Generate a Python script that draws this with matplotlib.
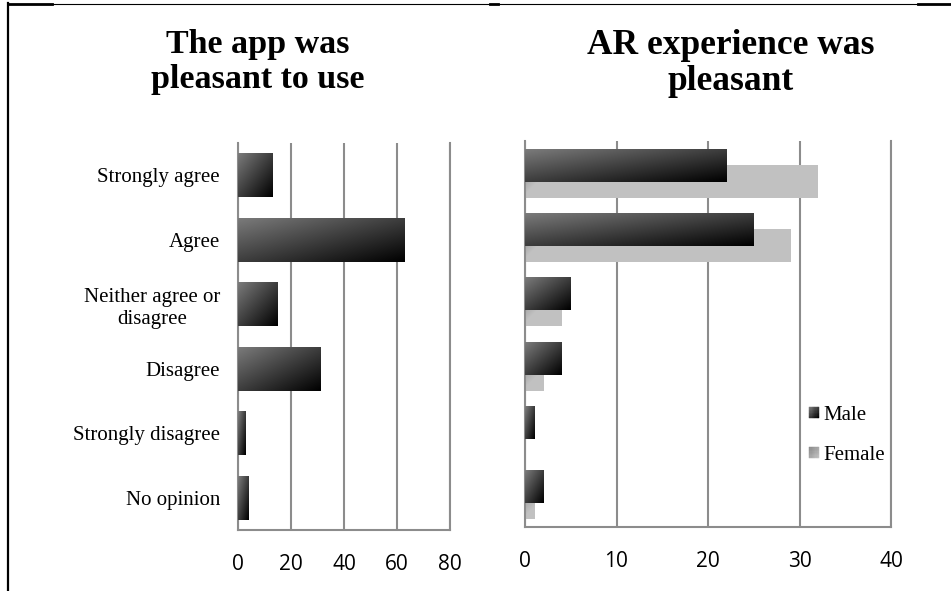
import numpy as np
import matplotlib
matplotlib.use('Agg')
import matplotlib.pyplot as plt
from matplotlib.lines import Line2D
from matplotlib.patches import Rectangle
from matplotlib.legend_handler import HandlerBase

# Survey answers
categories = ['Strongly agree', 'Agree', 'Neither agree or\ndisagree',
              'Disagree', 'Strongly disagree', 'No opinion']
app_pleasant = [13, 63, 15, 31, 3, 4]
ar_male = [22, 25, 5, 4, 1, 2]
ar_female = [32, 29, 4, 2, 0, 1]
left_ticks = [0, 20, 40, 60, 80]
right_ticks = [0, 10, 20, 30, 40]

SERIF = 'Liberation Serif'
SANS = 'Open Sans'
GRID = '#8c8c8c'
MALE_C = (np.array([0.48, 0.48, 0.48]), np.array([0.0, 0.0, 0.0]))
FEMALE_C = (np.array([0.55, 0.55, 0.55]), np.array([0.76, 0.76, 0.76]))


def gradient_bar(ax, bar, colors, z, reach=None):
    """Paint a bar with a diagonal gradient (top-left -> bottom-right)."""
    x0, y0 = bar.get_x(), bar.get_y()
    w, h = bar.get_width(), bar.get_height()
    if w <= 0:
        return
    p0 = ax.transData.transform((x0, y0))
    p1 = ax.transData.transform((x0 + w, y0 + h))
    wp = max(int(abs(p1[0] - p0[0])), 2)
    hp = max(int(abs(p1[1] - p0[1])), 2)
    xx, yy = np.meshgrid(np.arange(wp), np.arange(hp))
    if reach is None:
        t = (xx / (wp - 1) + yy / (hp - 1)) / 2
    else:
        t = np.clip((xx + yy) / reach, 0, 1)
    c0, c1 = colors
    img = c0[None, None, :] * (1 - t[..., None]) + c1[None, None, :] * t[..., None]
    ax.imshow(img, extent=(x0, x0 + w, y0 + h, y0), aspect='auto',
              interpolation='bilinear', zorder=z)
    bar.set_visible(False)


class GradHandler(HandlerBase):
    def __init__(self, colors):
        super().__init__()
        self.colors = colors

    def create_artists(self, legend, orig_handle, xdescent, ydescent,
                       width, height, fontsize, trans):
        n = 8
        c0, c1 = self.colors
        arts = []
        for i in range(n):
            for j in range(n):
                t = (i + j) / (2 * (n - 1))
                col = c0 * (1 - t) + c1 * t
                arts.append(Rectangle((-xdescent + i * width / n,
                                       -ydescent + height - (j + 1) * height / n),
                                      width / n, height / n, facecolor=col,
                                      edgecolor=col, lw=0.3, transform=trans))
        return arts


def style_axes(ax, xmax, ticks):
    ax.set_xlim(0, xmax)
    ax.set_ylim(len(categories) - 0.5, -0.5)
    ax.set_xticks(ticks)
    ax.set_axisbelow(True)
    ax.grid(axis='x', color=GRID, lw=1.5)
    ax.grid(axis='y', visible=False)
    for s in ['left', 'bottom', 'right']:
        ax.spines[s].set_color(GRID)
        ax.spines[s].set_linewidth(1.5)
    ax.spines['top'].set_visible(False)
    ax.tick_params(length=0)
    ax.tick_params(axis='x', pad=17, labelsize=15)
    for lab in ax.get_xticklabels():
        lab.set_fontfamily(SANS)


fig = plt.figure(figsize=(9.51, 5.91), dpi=100)
y = np.arange(len(categories))

# Left panel
ax1 = fig.add_axes([238 / 951, 1 - 530 / 591, 212 / 951, 387 / 591])
style_axes(ax1, 80, left_ticks)
ax1.set_yticks(y)
ax1.set_yticklabels(categories, fontfamily=SERIF, fontsize=15,
                    multialignment='center')
ax1.tick_params(axis='y', pad=13)
bars = ax1.barh(y, app_pleasant, height=0.68)
for b in bars:
    gradient_bar(ax1, b, MALE_C, 3)
style_axes(ax1, 80, left_ticks)

# Right panel
ax2 = fig.add_axes([525 / 951, 1 - 527 / 591, 366 / 951, 386 / 591])
style_axes(ax2, 40, right_ticks)
ax2.set_yticks(y)
ax2.set_yticklabels([])
fb = ax2.barh(y + 0.125, ar_female, height=0.51)
mb = ax2.barh(y - 0.125, ar_male, height=0.51)
for b in fb:
    gradient_bar(ax2, b, FEMALE_C, 2, reach=28)
for b in mb:
    gradient_bar(ax2, b, MALE_C, 3)
style_axes(ax2, 40, right_ticks)

h_m = Rectangle((0, 0), 1, 1)
h_f = Rectangle((0, 0), 1, 1)
ax2.legend([h_m, h_f], ['Male', 'Female'],
           handler_map={h_m: GradHandler(MALE_C), h_f: GradHandler(FEMALE_C)},
           loc='center left', bbox_to_anchor=(0.776, 0.237), frameon=False,
           prop={'family': SERIF, 'size': 15}, handlelength=0.48,
           handleheight=0.48, handletextpad=0.2, labelspacing=1.0,
           borderpad=0, borderaxespad=0)

# Titles
fig.text(258 / 951, 1 - 29 / 591, 'The app was\npleasant to use', ha='center',
         va='top', fontfamily=SERIF, fontweight='bold', fontsize=24.5,
         linespacing=1.15)
fig.text(731 / 951, 1 - 29 / 591, 'AR experience was\npleasant', ha='center',
         va='top', fontfamily=SERIF, fontweight='bold', fontsize=25.5,
         linespacing=1.1)

# Outer frame fragments
W, H = 951, 591
fig.add_artist(Line2D([8 / W, 8 / W], [1 - 3 / H, 0], color='black', lw=1.6,
                      transform=fig.transFigure))
fig.add_artist(Line2D([8 / W, 1], [1 - 3.5 / H, 1 - 3.5 / H], color='black',
                      lw=0.8, transform=fig.transFigure))
for xa, xb in [(8, 52), (490, 498), (918, 951)]:
    fig.add_artist(Line2D([xa / W, xb / W], [1 - 4 / H, 1 - 4 / H],
                          color='black', lw=2, transform=fig.transFigure))

fig.savefig('out.png', dpi=100)
